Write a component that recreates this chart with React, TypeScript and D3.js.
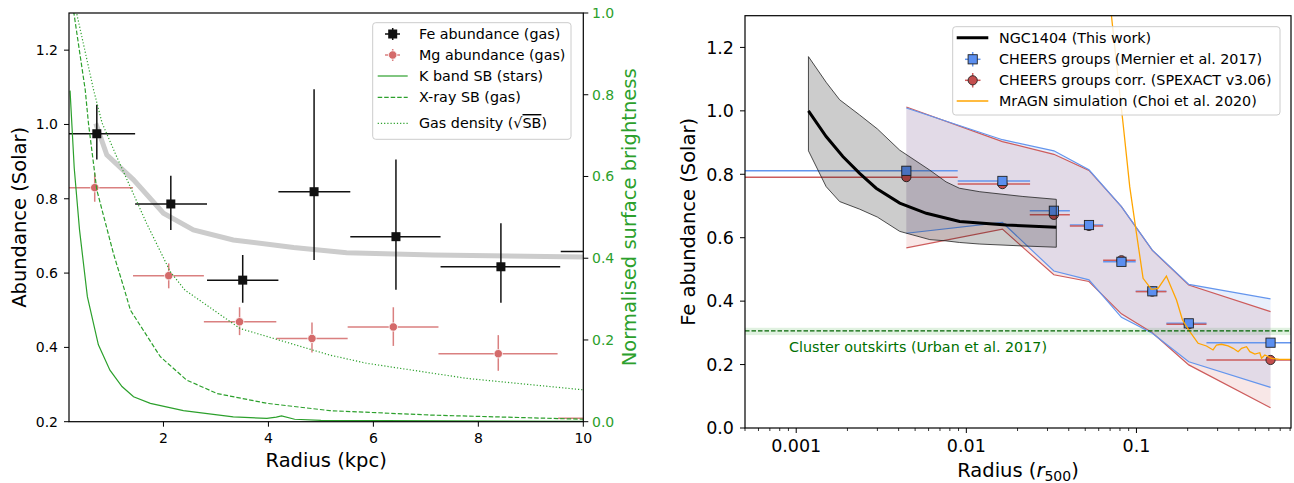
import React from 'react';
import * as d3 from 'd3';

// ---------- Left panel data (kpc) ----------
const feR = [0.73, 2.14, 3.51, 4.87, 6.43, 8.43, 10.7];
const feXLo = [0.0, 1.46, 2.83, 4.19, 5.56, 7.28, 9.57];
const feXHi = [1.46, 2.83, 4.19, 5.56, 7.28, 9.56, 11.8];
const feVal = [0.975, 0.786, 0.581, 0.819, 0.698, 0.617, 0.658];
const feYLo = [0.906, 0.716, 0.52, 0.635, 0.555, 0.52, 0.6];
const feYHi = [1.053, 0.862, 0.649, 1.095, 0.906, 0.734, 0.72];

const mgR = [0.69, 2.10, 3.45, 4.83, 6.38, 8.38, 10.7];
const mgXLo = [0.0, 1.42, 2.77, 4.15, 5.51, 7.24, 9.52];
const mgXHi = [1.42, 2.77, 4.15, 5.51, 7.24, 9.51, 11.8];
const mgVal = [0.83, 0.593, 0.469, 0.424, 0.455, 0.383, 0.209];
const mgYLo = [0.792, 0.559, 0.433, 0.386, 0.404, 0.337, 0.18];
const mgYHi = [0.869, 0.626, 0.508, 0.467, 0.508, 0.433, 0.24];

const modelR = [0.71, 0.92, 1.43, 2.0, 2.57, 3.33, 4.48, 5.49, 7.14, 10.0];
const modelVal = [1.003, 0.918, 0.851, 0.761, 0.716, 0.689, 0.669, 0.655, 0.649, 0.643];

const kR = [0.22, 0.3, 0.4, 0.55, 0.76, 0.98, 1.21, 1.43, 1.75, 2.38, 3.33, 3.97, 4.15, 4.25, 4.5, 5.0, 10.0];
const kSB = [0.81, 0.62, 0.47, 0.306, 0.188, 0.126, 0.086, 0.061, 0.045, 0.027, 0.012, 0.008, 0.011, 0.014, 0.006, 0.003, 0.001];

const xrR = [0.27, 0.51, 0.57, 0.73, 1.05, 1.24, 1.37, 1.94, 2.44, 3.02, 3.97, 5.17, 7.14, 10.0];
const xrSB = [1.02, 0.811, 0.731, 0.567, 0.41, 0.33, 0.273, 0.159, 0.102, 0.069, 0.045, 0.027, 0.016, 0.006];

const gdR = [0.31, 0.67, 0.83, 1.11, 1.68, 2.13, 2.41, 3.46, 5.17, 5.87, 7.78, 10.0];
const gdSB = [1.02, 0.811, 0.731, 0.648, 0.485, 0.367, 0.322, 0.228, 0.163, 0.143, 0.106, 0.078];

const leftXTicks = [2, 4, 6, 8, 10];
const leftYTicks = [0.2, 0.4, 0.6, 0.8, 1.0, 1.2];
const sbTicks = [0.0, 0.2, 0.4, 0.6, 0.8, 1.0];

// ---------- Right panel data (r500) ----------
const ngcR = [0.00118, 0.0015, 0.00188, 0.00236, 0.00295, 0.00406, 0.00582, 0.00914, 0.0172, 0.0338];
const ngcVal = [1.0, 0.919, 0.856, 0.803, 0.756, 0.709, 0.677, 0.651, 0.640, 0.633];
const ngcBandR = [0.00118, 0.0015, 0.0018, 0.00236, 0.0030, 0.00406, 0.0061, 0.0076, 0.0091, 0.012, 0.0215, 0.0338];
const ngcUp = [1.171, 1.09, 1.035, 0.987, 0.943, 0.876, 0.813, 0.776, 0.756, 0.745, 0.73, 0.721];
const ngcLo = [0.874, 0.761, 0.714, 0.69, 0.665, 0.62, 0.594, 0.59, 0.585, 0.58, 0.574, 0.57];

const chR = [0.00444, 0.0163, 0.0327, 0.0526, 0.0816, 0.124, 0.203, 0.614];
const chXLo = [0.0001, 0.0089, 0.0236, 0.0406, 0.0637, 0.099, 0.150, 0.258];
const chXHi = [0.0089, 0.0237, 0.0406, 0.0637, 0.099, 0.150, 0.258, 1.2];
const chFe = [0.811, 0.779, 0.685, 0.640, 0.524, 0.431, 0.330, 0.269];
const corrFe = [0.791, 0.769, 0.672, 0.637, 0.529, 0.430, 0.327, 0.2145];
const blueUp = [1.009, 0.909, 0.874, 0.814, 0.698, 0.561, 0.453, 0.407];
const blueLo = [0.614, 0.648, 0.495, 0.467, 0.349, 0.299, 0.209, 0.128];
const redUp = [1.012, 0.903, 0.863, 0.812, 0.698, 0.56, 0.451, 0.367];
const redLo = [0.568, 0.627, 0.483, 0.462, 0.36, 0.30, 0.199, 0.064];

const simR = [0.0705, 0.0713, 0.0763, 0.0834, 0.0913, 0.1, 0.1094, 0.1225, 0.134, 0.150, 0.172, 0.1865, 0.206, 0.2304, 0.258, 0.282, 0.2955, 0.316, 0.3457, 0.370, 0.396, 0.4147, 0.4436, 0.464, 0.4965, 0.531, 0.5435, 0.5684, 0.6223, 0.6966, 0.808];
const simFe = [1.45, 1.30, 1.15, 0.961, 0.761, 0.614, 0.472, 0.437, 0.4405, 0.479, 0.4036, 0.3405, 0.3037, 0.267, 0.2586, 0.246, 0.2617, 0.264, 0.2586, 0.2513, 0.2406, 0.2513, 0.2563, 0.2406, 0.2333, 0.2374, 0.2198, 0.2302, 0.2198, 0.2166, 0.2166];

const outskirtsFe = 0.306;
const outskirtsLo = 0.293;
const outskirtsHi = 0.316;

const rightXTicks = [0.001, 0.01, 0.1];
const rightXTickLabels = ['0.001', '0.01', '0.1'];
const rightYTicks = [0.0, 0.2, 0.4, 0.6, 0.8, 1.0, 1.2];

const FONT = 'DejaVu Sans';
const GREEN = '#2ca02c';
const MG = '#d46a6a';
const BLUE = '#6495ed';
const RED = '#cd5c5c';
const LEG = 14.3;

export default function App() {
  const xL = d3.scaleLinear().domain([0.2, 10]).range([69, 583.3]);
  const yL = d3.scaleLinear().domain([0.2, 1.3]).range([421.7, 13]);
  const yS = d3.scaleLinear().domain([0, 1]).range([421.7, 13]);
  const xR = d3.scaleLog().domain([0.0005, 0.81]).range([745, 1291]);
  const yF = d3.scaleLinear().domain([0, 1.3]).range([428, 15.7]);

  const lineL = (xs: number[], ys: number[]) =>
    d3.line<number>().x((_, i) => xL(xs[i])).y((v) => yL(v))(ys) || '';
  const lineS = (xs: number[], ys: number[]) =>
    d3.line<number>().x((_, i) => xL(xs[i])).y((v) => yS(v))(ys) || '';
  const lineR = (xs: number[], ys: number[]) =>
    d3.line<number>().x((_, i) => xR(xs[i])).y((v) => yF(v))(ys) || '';
  const areaR = (xs: number[], lo: number[], hi: number[]) =>
    d3.area<number>().x((_, i) => xR(xs[i])).y0((_, i) => yF(lo[i])).y1((_, i) => yF(hi[i]))(xs) || '';

  const [lx0, lx1] = xL.range();
  const [ly0, ly1] = yL.range();
  const [rx0, rx1] = xR.range();
  const [ry0, ry1] = yF.range();

  const minorTicks: number[] = [];
  for (let e = -4; e <= 0; e++) {
    for (let k = 2; k <= 9; k++) {
      const v = k * Math.pow(10, e);
      if (v >= 0.0005 && v <= 0.81) minorTicks.push(v);
    }
  }

  return (
    <svg width={1294} height={483} style={{ position: 'absolute', left: 0, top: 0 }} fontFamily={FONT}>
      <defs>
        <clipPath id="clipL"><rect x={lx0} y={ly1} width={lx1 - lx0} height={ly0 - ly1} /></clipPath>
        <clipPath id="clipR"><rect x={rx0} y={ry1} width={rx1 - rx0} height={ry0 - ry1} /></clipPath>
      </defs>
      <rect width={1294} height={483} fill="#fff" />

      {/* ================= LEFT PANEL ================= */}
      <g clipPath="url(#clipL)">
        <path d={lineL(modelR, modelVal)} fill="none" stroke="#cccccc" strokeWidth={5} />
        {mgR.map((r, i) => (
          <g key={'mg' + i} stroke={MG} strokeWidth={1.5} opacity={0.85}>
            <line x1={xL(mgXLo[i])} x2={xL(mgXHi[i])} y1={yL(mgVal[i])} y2={yL(mgVal[i])} />
            <line x1={xL(r)} x2={xL(r)} y1={yL(mgYLo[i])} y2={yL(mgYHi[i])} />
          </g>
        ))}
        {mgR.map((r, i) => (
          <circle key={'mgc' + i} cx={xL(r)} cy={yL(mgVal[i])} r={4.2} fill={MG} stroke="#fff" strokeWidth={0.8} />
        ))}
        {feR.map((r, i) => (
          <g key={'fe' + i} stroke="#111" strokeWidth={1.5}>
            <line x1={xL(feXLo[i])} x2={xL(feXHi[i])} y1={yL(feVal[i])} y2={yL(feVal[i])} />
            <line x1={xL(r)} x2={xL(r)} y1={yL(feYLo[i])} y2={yL(feYHi[i])} />
          </g>
        ))}
        {feR.map((r, i) => (
          <rect key={'fes' + i} x={xL(r) - 4.5} y={yL(feVal[i]) - 4.5} width={9} height={9} fill="#111" />
        ))}
        <path d={lineS(kR, kSB)} fill="none" stroke={GREEN} strokeWidth={1.2} />
        <path d={lineS(xrR, xrSB)} fill="none" stroke={GREEN} strokeWidth={1.2} strokeDasharray="4.5,2" />
        <path d={lineS(gdR, gdSB)} fill="none" stroke={GREEN} strokeWidth={1.2} strokeDasharray="1.2,2" />
      </g>

      {/* left axes */}
      <rect x={lx0} y={ly1} width={lx1 - lx0} height={ly0 - ly1} fill="none" stroke="#000" strokeWidth={1.2} />
      {leftXTicks.map((t) => (
        <g key={'lx' + t}>
          <line x1={xL(t)} x2={xL(t)} y1={ly0} y2={ly0 + 5} stroke="#000" />
          <text x={xL(t)} y={443} fontSize={14} textAnchor="middle">{t}</text>
        </g>
      ))}
      {leftYTicks.map((t) => (
        <g key={'ly' + t}>
          <line x1={lx0 - 5} x2={lx0} y1={yL(t)} y2={yL(t)} stroke="#000" />
          <text x={58} y={yL(t) + 5} fontSize={14} textAnchor="end">{t.toFixed(1)}</text>
        </g>
      ))}
      {sbTicks.map((t) => (
        <g key={'sy' + t}>
          <line x1={lx1} x2={lx1 + 5} y1={yS(t)} y2={yS(t)} stroke="#000" />
          <text x={592} y={yS(t) + 5} fontSize={14} fill={GREEN}>{t.toFixed(1)}</text>
        </g>
      ))}
      <text x={(lx0 + lx1) / 2} y={467} fontSize={19.5} textAnchor="middle">Radius (kpc)</text>
      <text transform={`translate(26,${(ly0 + ly1) / 2}) rotate(-90)`} fontSize={19.5} textAnchor="middle">Abundance (Solar)</text>
      <text transform={`translate(636,${(ly0 + ly1) / 2}) rotate(-90)`} fontSize={19.5} textAnchor="middle" fill={GREEN}>Normalised surface brightness</text>

      {/* left legend */}
      <g>
        <rect x={372.7} y={22.7} width={198.3} height={116.6} rx={3} fill="#fff" fillOpacity={0.8} stroke="#cccccc" />
        <g stroke="#111" strokeWidth={1.5}>
          <line x1={385} x2={400} y1={34} y2={34} />
          <line x1={392.7} x2={392.7} y1={28} y2={40} />
        </g>
        <rect x={388.2} y={29.5} width={9} height={9} fill="#111" />
        <g stroke={MG} strokeWidth={1.5} opacity={0.85}>
          <line x1={385} x2={400} y1={55} y2={55} />
          <line x1={392.7} x2={392.7} y1={49} y2={61} />
        </g>
        <circle cx={392.7} cy={55} r={4.2} fill={MG} stroke="#fff" strokeWidth={0.8} />
        <line x1={377.7} x2={407.7} y1={76} y2={76} stroke={GREEN} strokeWidth={1.2} />
        <line x1={377.7} x2={407.7} y1={97.3} y2={97.3} stroke={GREEN} strokeWidth={1.2} strokeDasharray="4.5,2" />
        <line x1={377.7} x2={407.7} y1={123.3} y2={123.3} stroke={GREEN} strokeWidth={1.2} strokeDasharray="1.2,2" />
        <g fontSize={LEG}>
          <text x={419} y={39}>Fe abundance (gas)</text>
          <text x={419} y={60}>Mg abundance (gas)</text>
          <text x={419} y={81}>K band SB (stars)</text>
          <text x={419} y={102}>X-ray SB (gas)</text>
          <text x={419} y={128}>Gas density (√<tspan style={{ textDecoration: 'overline' }}>SB</tspan>)</text>
        </g>
      </g>

      {/* ================= RIGHT PANEL ================= */}
      <g clipPath="url(#clipR)">
        <rect x={rx0} y={yF(outskirtsHi)} width={rx1 - rx0} height={yF(outskirtsLo) - yF(outskirtsHi)} fill={GREEN} fillOpacity={0.15} />
        <path d={areaR(chR, redLo, redUp)} fill={RED} fillOpacity={0.15} />
        <path d={areaR(chR, blueLo, blueUp)} fill={BLUE} fillOpacity={0.15} />
        <path d={lineR(chR, redUp)} fill="none" stroke={RED} strokeWidth={1.2} />
        <path d={lineR(chR, redLo)} fill="none" stroke={RED} strokeWidth={1.2} />
        <path d={lineR(chR, blueUp)} fill="none" stroke={BLUE} strokeWidth={1.2} />
        <path d={lineR(chR, blueLo)} fill="none" stroke={BLUE} strokeWidth={1.2} />
        {chR.map((r, i) => (
          <g key={'che' + i} strokeWidth={1.5}>
            <line x1={xR(chXLo[i])} x2={xR(chXHi[i])} y1={yF(chFe[i])} y2={yF(chFe[i])} stroke={BLUE} />
            <line x1={xR(chXLo[i])} x2={xR(chXHi[i])} y1={yF(corrFe[i])} y2={yF(corrFe[i])} stroke={RED} />
          </g>
        ))}
        {chR.map((r, i) => (
          <circle key={'cc' + i} cx={xR(r)} cy={yF(corrFe[i])} r={4.6} fill="#c44e4e" stroke="#222" strokeWidth={0.9} />
        ))}
        {chR.map((r, i) => (
          <rect key={'cs' + i} x={xR(r) - 4.6} y={yF(chFe[i]) - 4.6} width={9.2} height={9.2} fill="#5b8ff0" stroke="#222" strokeWidth={0.9} />
        ))}
        <path d={lineR(simR, simFe)} fill="none" stroke="#ffa500" strokeWidth={1.3} />
        <path d={areaR(ngcBandR, ngcLo, ngcUp)} fill="#000" fillOpacity={0.2} stroke="#222" strokeWidth={0.8} />
        <path d={lineR(ngcR, ngcVal)} fill="none" stroke="#000" strokeWidth={3} />
        <line x1={rx0} x2={rx1} y1={yF(outskirtsFe)} y2={yF(outskirtsFe)} stroke="#006400" strokeWidth={1.2} strokeDasharray="4.5,2" />
      </g>
      <text x={789} y={352} fontSize={LEG} fill="#007000">Cluster outskirts (Urban et al. 2017)</text>

      {/* right axes */}
      <rect x={rx0} y={ry1} width={rx1 - rx0} height={ry0 - ry1} fill="none" stroke="#000" strokeWidth={1.2} />
      {rightXTicks.map((t, i) => (
        <g key={'rx' + t}>
          <line x1={xR(t)} x2={xR(t)} y1={ry0} y2={ry0 + 5} stroke="#000" />
          <text x={xR(t)} y={452} fontSize={17.5} textAnchor="middle">{rightXTickLabels[i]}</text>
        </g>
      ))}
      {minorTicks.map((t) => (
        <line key={'mt' + t} x1={xR(t)} x2={xR(t)} y1={ry0} y2={ry0 + 3} stroke="#000" strokeWidth={0.8} />
      ))}
      {rightYTicks.map((t) => (
        <g key={'ry' + t}>
          <line x1={rx0 - 5} x2={rx0} y1={yF(t)} y2={yF(t)} stroke="#000" />
          <text x={734} y={yF(t) + 6.3} fontSize={17.5} textAnchor="end">{t.toFixed(1)}</text>
        </g>
      ))}
      <text x={(rx0 + rx1) / 2} y={477} fontSize={19.5} textAnchor="middle">
        Radius (<tspan fontStyle="italic">r</tspan><tspan fontSize={14} dy={4}>500</tspan><tspan dy={-4}>)</tspan>
      </text>
      <text transform={`translate(695,${(ry0 + ry1) / 2}) rotate(-90)`} fontSize={19.5} textAnchor="middle">Fe abundance (Solar)</text>

      {/* right legend */}
      <g>
        <rect x={952.7} y={26.7} width={327.3} height={88.3} rx={3} fill="#fff" fillOpacity={0.8} stroke="#cccccc" />
        <line x1={956.7} x2={988.3} y1={37.7} y2={37.7} stroke="#000" strokeWidth={3} />
        <g stroke={BLUE} strokeWidth={1.5}>
          <line x1={965} x2={980.5} y1={59.3} y2={59.3} />
          <line x1={972.7} x2={972.7} y1={52} y2={66.5} />
        </g>
        <rect x={968.1} y={54.7} width={9.2} height={9.2} fill="#5b8ff0" stroke="#222" strokeWidth={0.9} />
        <g stroke={RED} strokeWidth={1.5}>
          <line x1={965} x2={980.5} y1={80.3} y2={80.3} />
          <line x1={972.7} x2={972.7} y1={73} y2={87.5} />
        </g>
        <circle cx={972.7} cy={80.3} r={4.6} fill="#c44e4e" stroke="#222" strokeWidth={0.9} />
        <line x1={956.7} x2={988.3} y1={101} y2={101} stroke="#ffa500" strokeWidth={1.3} />
        <g fontSize={LEG}>
          <text x={999} y={42.7}>NGC1404 (This work)</text>
          <text x={999} y={64.3}>CHEERS groups (Mernier et al. 2017)</text>
          <text x={999} y={85.3}>CHEERS groups corr. (SPEXACT v3.06)</text>
          <text x={999} y={106}>MrAGN simulation (Choi et al. 2020)</text>
        </g>
      </g>
    </svg>
  );
}
